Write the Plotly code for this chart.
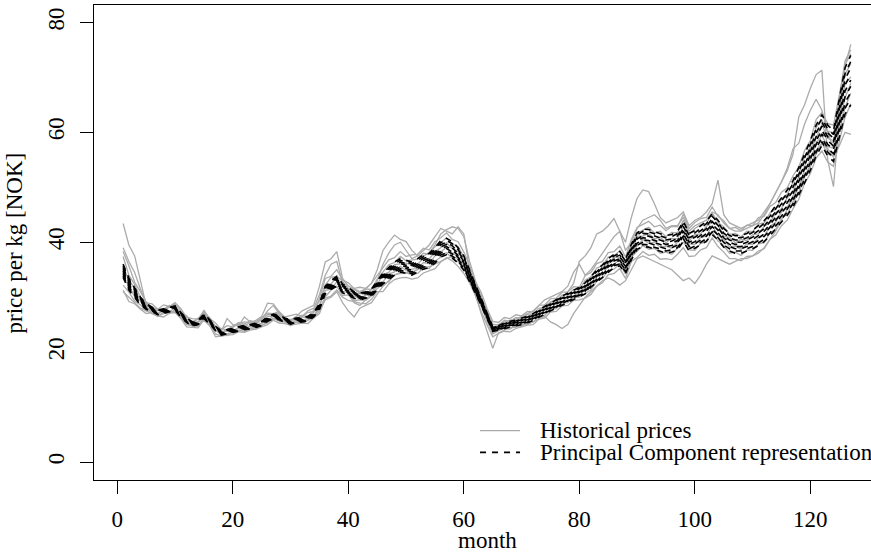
import plotly.graph_objects as go

months = list(range(1, 128))

# Historical price curves (NOK per kg)
hist_a = [43.4,39.5,37.5,33.0,28.5,27.0,27.0,27.8,28.2,28.5,
26.2,25.0,24.8,25.5,26.8,25.2,24.0,23.3,24.0,24.5,
25.2,25.5,25.3,25.8,26.5,28.9,28.8,27.5,26.0,25.8,
26.5,27.5,28.0,28.5,32.0,36.4,37.0,38.3,33.4,32.0,
31.5,31.0,31.5,32.5,35.0,38.5,40.0,41.3,40.5,40.1,
38.5,37.5,37.5,38.0,39.5,41.5,42.3,42.8,42.5,41.0,
36.5,33.0,30.0,27.5,25.0,25.0,25.5,25.8,26.0,26.5,
27.0,27.5,28.5,29.5,30.0,30.5,31.0,32.0,34.5,36.0,
34.0,35.0,36.5,38.0,39.5,41.0,42.0,40.0,44.5,48.0,
49.5,49.2,47.0,44.5,43.5,44.0,44.5,45.5,43.0,44.0,
44.5,45.5,47.0,51.3,45.0,43.5,43.0,42.5,43.0,43.5,
44.0,45.5,47.0,49.0,51.0,53.0,56.0,62.8,65.0,68.0,
70.5,71.3,55.0,50.1,62.0,72.0,76.0]

hist_b = [39.0,36.5,34.5,31.5,29.0,28.0,27.5,27.8,28.3,28.8,
27.5,26.0,25.5,26.0,27.2,26.0,24.5,23.8,26.1,25.0,
24.8,26.4,25.5,25.5,26.0,27.5,28.5,27.0,26.2,25.8,
26.0,26.5,27.5,28.0,30.5,34.0,36.0,36.5,32.5,30.5,
29.0,28.5,29.5,30.5,33.0,36.0,38.0,39.5,40.0,38.5,
37.0,37.5,38.5,39.5,41.0,42.5,42.0,41.5,42.8,41.5,
35.0,31.5,28.5,26.0,23.5,24.0,24.5,25.0,25.5,26.0,
26.5,27.0,27.5,28.5,29.0,29.5,30.0,31.0,32.5,36.5,
37.5,39.0,41.5,42.0,43.0,44.3,42.0,38.5,40.0,42.5,
44.0,44.5,45.0,44.0,42.5,43.0,43.0,44.5,42.0,43.0,
43.5,44.0,45.5,45.0,43.5,42.5,42.0,42.0,42.5,43.0,
43.5,45.0,47.0,49.0,51.0,53.5,57.0,58.0,61.5,64.0,
66.0,64.0,60.0,57.0,66.0,73.0,75.0]

hist_c = [31.0,30.0,29.0,28.0,27.5,27.0,26.5,27.0,27.2,27.5,
26.5,25.3,24.8,25.0,25.8,24.8,22.8,22.9,23.3,23.6,
24.0,24.2,24.3,24.5,24.8,25.5,26.0,26.0,25.5,25.2,
25.5,25.5,25.8,26.2,27.5,29.5,30.0,31.0,29.0,27.5,
26.4,28.0,28.5,29.0,30.5,32.0,33.0,34.0,34.5,34.5,
34.5,35.0,35.5,35.5,36.0,36.5,37.0,37.5,37.0,35.5,
33.0,30.5,27.0,24.0,20.7,23.5,24.0,24.5,24.5,25.0,
25.0,25.5,26.0,26.5,25.5,25.0,24.3,25.0,27.0,28.5,
30.0,31.0,32.0,33.0,33.5,33.0,32.2,33.0,35.0,37.0,
37.5,37.0,36.5,36.0,35.5,35.0,34.0,33.0,33.5,32.5,
34.0,36.0,37.5,37.0,36.5,36.0,36.5,37.0,37.0,37.5,
38.0,39.0,40.5,42.0,44.0,46.0,48.0,50.0,52.0,54.0,
56.0,58.0,57.0,55.5,57.5,60.0,59.6]

hist_d = [31.3,29.2,28.8,27.8,27.0,27.2,26.6,26.4,27.1,27.2,
26.1,24.6,24.5,24.4,25.9,24.9,23.3,22.9,23.1,23.2,
23.7,23.6,24.0,24.2,24.6,25.0,25.8,25.3,25.2,24.9,
25.1,25.3,25.2,26.2,27.0,29.8,30.2,31.3,30.0,29.4,
29.2,28.9,28.8,29.6,31.0,31.0,32.4,33.2,33.5,33.6,
33.3,33.5,34.4,34.8,35.2,36.4,37.2,36.6,35.6,34.3,
32.6,30.3,27.4,25.0,22.8,23.4,23.8,23.7,24.3,24.6,
24.9,25.0,26.0,26.2,27.3,27.4,28.4,28.5,29.4,29.5,
29.8,30.5,32.0,32.6,34.1,34.3,35.2,33.4,36.5,37.2,
38.3,37.6,37.8,36.9,37.0,36.8,37.8,39.0,37.4,37.5,
38.6,39.0,40.8,39.2,38.2,37.0,37.0,36.6,37.4,37.5,
38.4,38.8,40.5,41.3,43.0,44.0,46.1,47.8,50.7,52.5,
55.3,56.6,54.6,53.8,58.3,62.7,65.2]

hist_e = [32.2,30.9,29.3,28.6,27.5,27.5,26.5,27.2,27.0,27.7,
26.5,25.1,24.8,24.7,26.2,24.8,24.0,23.2,23.0,23.7,
24.0,23.8,24.3,24.2,24.9,25.3,26.2,25.6,25.5,24.8,
25.5,25.2,25.8,26.5,27.9,30.0,31.3,32.0,30.3,30.4,
29.4,29.5,29.4,30.2,31.6,32.3,32.8,34.1,34.3,34.4,
34.1,34.3,35.3,35.2,36.5,37.3,38.1,37.1,36.5,35.1,
33.2,30.4,28.4,25.6,23.3,23.9,24.3,24.2,24.8,24.7,
25.4,25.5,26.5,26.7,27.8,27.9,28.9,29.0,29.9,30.0,
30.7,31.3,32.9,33.4,34.9,35.1,36.1,34.2,37.3,38.3,
39.4,38.7,38.9,38.0,38.2,37.8,38.9,40.0,38.6,38.5,
39.8,40.0,41.9,40.2,39.4,38.0,38.2,37.6,38.6,38.5,
39.7,39.9,41.7,42.4,44.3,45.1,47.3,48.9,51.9,53.7,
56.7,58.0,56.0,55.7,60.2,64.5,67.1]

hist_f = [33.6,32.1,30.1,29.3,27.9,27.9,26.8,27.6,27.3,28.1,
26.3,25.9,24.7,25.5,26.0,25.6,23.9,23.6,23.8,23.6,
24.4,24.1,24.7,24.5,25.3,25.6,26.6,25.9,25.9,25.1,
25.9,25.5,26.2,26.4,28.5,31.2,31.5,32.8,31.0,30.9,
30.3,29.6,30.4,30.3,32.2,32.8,34.2,34.6,35.6,34.9,
35.1,35.2,36.3,36.1,37.5,38.2,39.1,38.0,37.5,35.6,
33.8,31.0,29.1,26.2,23.8,24.4,24.4,25.2,24.9,25.6,
25.5,26.5,26.6,27.7,27.8,28.9,29.0,30.0,30.0,31.0,
31.5,32.1,33.7,34.1,35.7,35.9,36.9,34.9,38.1,39.3,
40.5,39.8,40.0,39.1,39.3,38.9,40.0,41.1,39.7,39.6,
40.9,41.1,43.0,41.3,40.5,39.1,39.3,38.7,39.7,39.6,
40.9,41.1,42.9,43.6,45.5,46.3,48.5,50.1,53.1,54.9,
58.1,59.4,57.4,57.1,61.9,66.3,68.9]

hist_g = [35.3,33.2,31.5,29.4,28.7,27.7,27.7,27.5,28.2,27.9,
27.2,25.7,25.6,25.4,27.0,25.4,24.8,23.5,24.2,24.0,
24.3,25.0,24.6,25.4,25.2,26.5,26.5,26.8,25.8,26.0,
25.8,26.4,26.1,27.3,28.3,32.0,32.4,33.6,31.8,31.5,
30.5,30.7,30.5,31.4,32.3,34.1,34.5,35.9,36.0,36.2,
35.9,36.0,37.1,36.9,38.3,39.0,39.9,38.8,38.3,36.4,
34.0,32.1,29.2,27.3,24.2,24.9,24.8,25.6,25.3,26.1,
26.4,26.4,27.5,27.6,28.7,28.8,29.9,29.9,30.9,30.8,
31.8,33.5,34.0,35.5,36.0,37.3,37.2,36.3,38.4,41.1,
41.1,41.6,40.6,40.9,39.9,40.7,40.6,42.9,40.3,41.4,
41.5,42.9,43.6,43.1,41.1,40.9,39.9,40.5,40.3,41.4,
41.5,42.9,43.5,45.4,46.1,48.1,49.1,51.9,53.7,56.7,
58.9,61.4,58.9,58.5,63.1,68.7,70.1]

hist_h = [37.4,34.0,32.3,30.0,29.1,28.1,27.9,27.8,28.5,28.3,
27.1,26.6,25.4,26.2,26.8,26.3,24.6,24.3,24.0,24.8,
25.1,24.8,25.4,25.2,26.0,26.8,26.8,27.1,26.1,25.8,
26.1,26.7,26.4,27.6,29.3,32.2,33.6,33.8,32.9,31.6,
31.4,30.7,31.5,31.4,33.3,34.5,35.9,36.3,37.4,36.6,
36.8,36.9,38.0,37.8,39.2,39.9,40.8,39.7,39.2,37.3,
35.0,32.2,30.3,27.4,25.1,24.9,25.8,25.6,26.3,26.1,
26.9,26.9,28.0,28.1,29.2,29.3,30.4,30.4,31.4,31.3,
33.1,33.7,35.3,35.7,37.3,37.5,38.5,36.5,39.7,41.6,
42.2,42.7,41.7,42.0,41.0,41.8,41.7,44.0,41.4,42.5,
43.2,43.4,45.3,43.6,42.8,41.4,41.6,41.0,42.0,41.9,
43.3,43.5,45.3,46.0,47.9,48.7,50.9,52.5,55.5,57.3,
60.9,62.2,60.2,59.9,64.9,70.5,72.5]

hist_i = [38.3,35.7,32.7,31.0,29.0,28.8,27.8,28.6,28.3,29.0,
27.9,26.3,26.1,26.0,27.6,26.1,25.3,24.1,24.8,24.6,
25.4,25.1,25.7,25.5,26.3,27.1,27.0,27.4,26.4,26.6,
26.9,26.5,27.2,27.4,29.8,33.4,33.8,35.0,33.1,32.6,
31.6,31.8,31.6,32.5,33.9,35.3,36.8,37.2,38.3,37.4,
37.7,37.8,38.9,38.6,40.1,40.8,41.7,40.5,40.1,38.2,
35.7,32.8,30.9,28.0,25.6,25.4,26.3,26.1,26.8,26.6,
27.4,27.3,28.5,28.6,29.7,29.8,30.9,30.9,31.9,31.8,
33.9,34.5,36.1,36.5,38.1,38.3,39.3,37.3,40.5,42.7,
43.3,43.8,42.8,43.1,42.1,42.9,42.8,45.1,42.5,43.6,
44.3,44.5,46.4,44.7,43.9,42.5,42.7,42.1,43.1,43.0,
44.5,44.7,46.5,47.2,49.1,49.9,52.1,53.7,56.7,58.5,
62.3,63.6,61.6,61.3,66.7,72.3,74.3]

historical = [hist_a, hist_b, hist_c, hist_d, hist_e, hist_f, hist_g, hist_h, hist_i]

# Principal component representation: mean curve, first component, scores
pc_mean = [34.8,32.4,30.8,29.3,28.3,27.8,27.2,27.5,27.7,28.0,
26.8,25.8,25.1,25.4,26.5,25.5,24.3,23.5,23.7,24.0,
24.3,24.5,24.6,24.9,25.2,26.0,26.5,26.3,25.8,25.5,
25.8,25.9,26.1,26.8,28.3,31.3,32.2,32.9,31.6,31.0,
30.4,30.1,30.4,30.8,32.2,33.4,34.3,35.2,35.8,35.5,
35.2,35.8,36.4,36.7,37.6,38.8,39.2,38.6,37.6,36.2,
33.9,31.5,29.1,26.7,24.2,24.4,24.8,25.1,25.3,25.6,
25.9,26.4,27.0,27.6,28.2,28.8,29.4,29.9,30.4,30.9,
31.6,32.8,33.8,34.8,35.8,36.6,37.0,35.6,38.2,40.2,
40.8,40.7,40.3,40.0,39.6,39.8,40.3,42.0,40.0,40.5,
41.2,42.0,43.3,42.2,40.8,40.0,39.6,39.6,40.0,40.5,
41.2,42.0,43.2,44.5,45.8,47.2,48.8,51.0,53.4,55.8,
58.5,60.4,58.5,57.5,62.5,67.5,69.5]

pc_component = [1.2,1.1,0.9,0.7,0.5,0.4,0.4,0.4,0.4,0.4,
0.4,0.4,0.4,0.4,0.4,0.4,0.4,0.4,0.4,0.4,
0.4,0.4,0.4,0.4,0.4,0.4,0.4,0.4,0.4,0.4,
0.4,0.4,0.4,0.4,0.5,0.7,0.8,0.9,0.8,0.7,
0.6,0.6,0.6,0.7,0.8,1.0,1.1,1.2,1.2,1.2,
1.2,1.2,1.3,1.3,1.4,1.5,1.5,1.5,1.4,1.3,
1.0,0.8,0.6,0.5,0.4,0.4,0.5,0.5,0.5,0.6,
0.6,0.6,0.7,0.7,0.7,0.8,0.8,0.8,0.9,0.9,
1.0,1.0,1.1,1.1,1.2,1.2,1.3,1.3,1.4,1.5,
1.6,1.6,1.6,1.6,1.6,1.6,1.7,1.8,1.6,1.6,
1.7,1.8,1.9,1.8,1.7,1.6,1.6,1.6,1.6,1.7,
1.8,1.9,2.0,2.1,2.2,2.3,2.4,2.5,2.6,2.7,
2.8,2.8,2.8,2.8,3.5,4.2,4.5]

pc_scores = [-1.0, -0.75, -0.5, -0.25, 0.0, 0.25, 0.5, 0.75, 1.0]

x_ticks = [0, 20, 40, 60, 80, 100, 120]
y_ticks = [0, 20, 40, 60, 80]

for s in historical + [pc_mean, pc_component]:
    assert len(s) == len(months), len(s)

FONT = "Liberation Serif"
FS = 23

fig = go.Figure()
for s in historical:
    fig.add_trace(go.Scatter(x=months, y=s, mode="lines",
                             line=dict(color="#ababab", width=1.3),
                             showlegend=False, hoverinfo="skip"))
for sc in pc_scores:
    ys = [m + sc * c for m, c in zip(pc_mean, pc_component)]
    fig.add_trace(go.Scatter(x=months, y=ys, mode="lines",
                             line=dict(color="black", width=1.6, dash="6px,6px"),
                             showlegend=False, hoverinfo="skip"))

axis_common = dict(showline=True, linecolor="black", linewidth=1.3,
                   ticks="outside", ticklen=13, tickwidth=1, tickcolor="black",
                   showgrid=False, zeroline=False, automargin=False,
                   tickfont=dict(family=FONT, size=FS, color="black"))

fig.update_xaxes(range=[-4.04, 130.5], tickvals=x_ticks, mirror=True,
                 ticklabelstandoff=5, **axis_common)
fig.update_yaxes(range=[-3.27, 83.16], tickvals=y_ticks, mirror=False,
                 tickangle=-90, ticklabelstandoff=7, **axis_common)

# axis titles
fig.add_annotation(text="month", xref="paper", yref="paper", x=0.5058, y=-0.1284,
                   xanchor="center", yanchor="middle", showarrow=False,
                   font=dict(family=FONT, size=FS, color="black"))
fig.add_annotation(text="price per kg [NOK]", xref="paper", yref="paper",
                   x=-0.1017, y=0.5, textangle=-90, xanchor="center", yanchor="middle",
                   showarrow=False, font=dict(family=FONT, size=FS, color="black"))

# legend
leg_x0, leg_x1, leg_tx = 0.4968, 0.5483, 0.5714
leg_rows = [("Historical prices", 0.1040, dict(color="#ababab", width=1.3)),
            ("Principal Component representation", 0.0580,
             dict(color="black", width=1.8, dash="6px,6px"))]
for label, yy, ln in leg_rows:
    fig.add_shape(type="line", xref="paper", yref="paper",
                  x0=leg_x0, x1=leg_x1, y0=yy, y1=yy, line=ln)
    fig.add_annotation(text=label, xref="paper", yref="paper", x=leg_tx, y=yy,
                       xanchor="left", yanchor="middle", showarrow=False,
                       font=dict(family=FONT, size=FS, color="black"))

fig.update_layout(width=871, height=552, margin=dict(l=94, r=0, t=5, b=72),
                  paper_bgcolor="white", plot_bgcolor="white",
                  font=dict(family=FONT, size=FS, color="black"))

fig.write_html("out.html", config={"displayModeBar": False},
               post_script="document.body.style.margin='0';"
                           "document.body.style.overflow='hidden';")
